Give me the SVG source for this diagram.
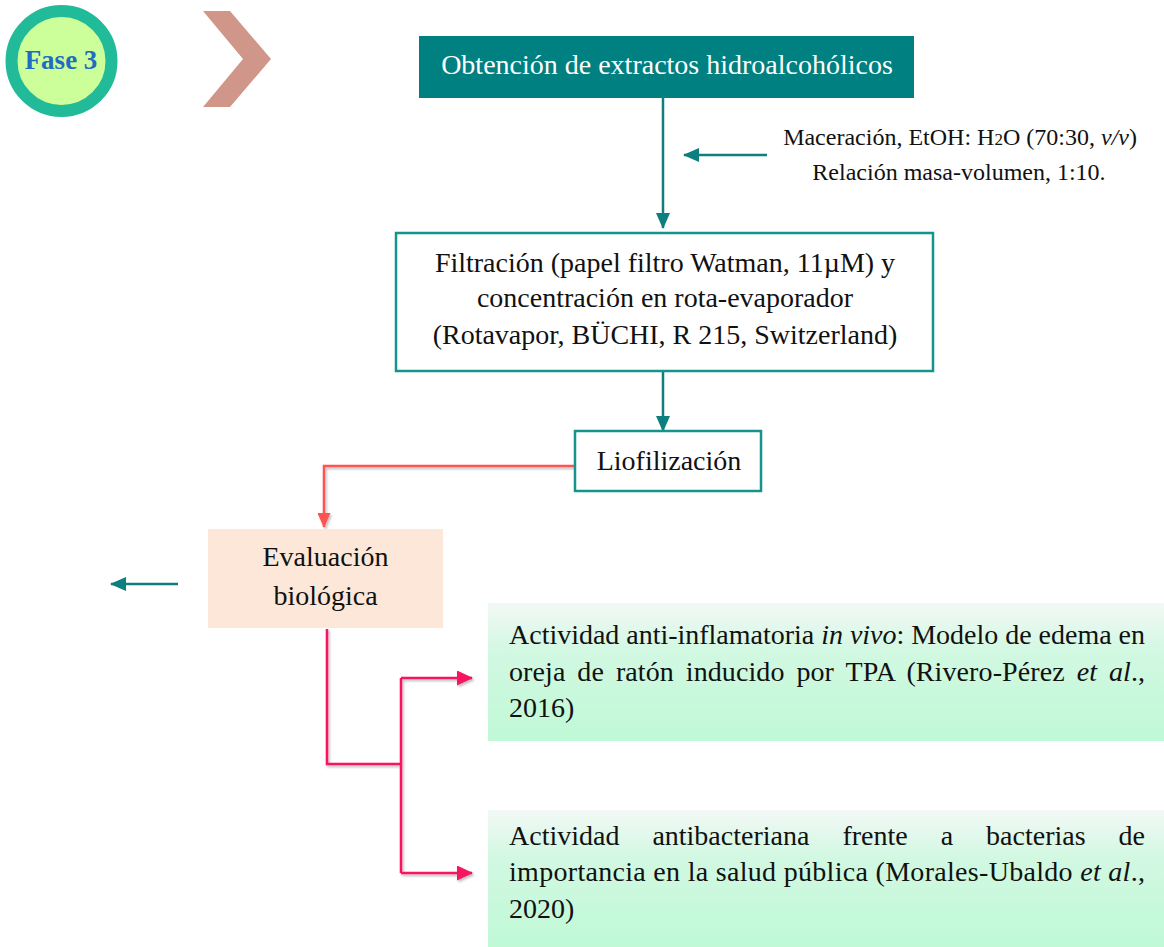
<svg xmlns="http://www.w3.org/2000/svg" width="1164" height="947" viewBox="0 0 1164 947">
<defs>
<style>
text{font-family:"Liberation Serif","Times New Roman",serif;fill:#111;}
.t{font-size:28px;}
.s{font-size:24px;}
.tealbox{fill:#fff;stroke:#14948C;stroke-width:2.5;}
.teal{stroke:#0E7F7F;stroke-width:2.5;fill:none;}
.red{stroke:#FF5252;stroke-width:2.5;fill:none;}
.pink{stroke:#F5125E;stroke-width:2.5;fill:none;}
</style>
<linearGradient id="gg" x1="0" y1="0" x2="0" y2="1">
<stop offset="0" stop-color="#F3F8F6"/>
<stop offset="0.35" stop-color="#D2F8E2"/>
<stop offset="1" stop-color="#BFF9D6"/>
</linearGradient>
<marker id="at" markerWidth="16" markerHeight="14" refX="15" refY="7" orient="auto" markerUnits="userSpaceOnUse" viewBox="0 0 16 14"><path d="M0,0 L16,7 L0,14 Z" fill="#0E7F7F"/></marker>
<marker id="ar" markerWidth="15" markerHeight="13" refX="14" refY="6.5" orient="auto" markerUnits="userSpaceOnUse" viewBox="0 0 15 13"><path d="M0,0 L15,6.5 L0,13 Z" fill="#FF5252"/></marker>
<marker id="ap" markerWidth="16" markerHeight="15" refX="15" refY="7.5" orient="auto" markerUnits="userSpaceOnUse" viewBox="0 0 16 15"><path d="M0,0 L16,7.5 L0,15 Z" fill="#F5125E"/></marker>
<filter id="sh" x="-10%" y="-10%" width="130%" height="130%"><feDropShadow dx="1.5" dy="2" stdDeviation="1.2" flood-color="#000" flood-opacity="0.25"/></filter>
</defs>

<g id="fase">
<circle cx="61.5" cy="61" r="50" fill="#CCFF99" stroke="#22BB99" stroke-width="12"/>
<text x="61" y="69" text-anchor="middle" style="font-size:27px;font-weight:bold;fill:#1F6CC2">Fase 3</text>
</g>
<g id="chevron">
<polygon points="203,11 230,11 271,59 230,107 203,107 243,59" fill="#D0968A"/>
</g>

<g id="connectors">
<line class="teal" x1="663" y1="98" x2="663" y2="228" marker-end="url(#at)"/>
<line class="teal" x1="767" y1="155" x2="684" y2="155" marker-end="url(#at)"/>
<line class="teal" x1="663" y1="371" x2="663" y2="431" marker-end="url(#at)"/>
<polyline class="red" points="575,466 324,466 324,527" marker-end="url(#ar)" filter="url(#sh)"/>
<line class="teal" x1="178" y1="584" x2="111" y2="584" marker-end="url(#at)"/>
<g filter="url(#sh)">
<polyline class="pink" points="327,629 327,764 401,764"/>
<line class="pink" x1="401" y1="678" x2="401" y2="873"/>
<polyline class="pink" points="401,678 472,678" marker-end="url(#ap)"/>
<polyline class="pink" points="401,873 472,873" marker-end="url(#ap)"/>
</g>
</g>

<g id="n1">
<rect x="419" y="36" width="495" height="62" fill="#008080"/>
<text class="t" x="667" y="74" text-anchor="middle" style="fill:#fff">Obtención de extractos hidroalcohólicos</text>
</g>

<g id="note">
<text class="s" x="960" y="145" text-anchor="middle">Maceración, EtOH: H<tspan style="font-size:17px">2</tspan>O (70:30, <tspan font-style="italic">v/v</tspan>)</text>
<text class="s" x="959" y="180" text-anchor="middle">Relación masa-volumen, 1:10.</text>
</g>

<g id="n2">
<rect class="tealbox" x="396" y="233" width="537" height="138"/>
<text class="t" x="665" y="272" text-anchor="middle">Filtración (papel filtro Watman, 11µM) y</text>
<text class="t" x="665" y="307" text-anchor="middle">concentración en rota-evaporador</text>
<text class="t" x="665" y="344" text-anchor="middle">(Rotavapor, BÜCHI, R 215, Switzerland)</text>
</g>

<g id="n3">
<rect class="tealbox" x="575" y="431" width="186" height="60"/>
<text class="t" x="669" y="470" text-anchor="middle">Liofilización</text>
</g>

<g id="n4">
<rect x="208" y="529" width="235" height="99" fill="#FCE7D8"/>
<text class="t" x="325.5" y="566" text-anchor="middle">Evaluación</text>
<text class="t" x="325.5" y="605" text-anchor="middle">biológica</text>
</g>

<g id="n5">
<rect x="488" y="603" width="676" height="138" fill="url(#gg)"/>
<text class="t" x="509" y="644" textLength="636" lengthAdjust="spacing">Actividad anti-inflamatoria <tspan font-style="italic">in vivo</tspan>: Modelo de edema en</text>
<text class="t" x="509" y="681" word-spacing="4.8" textLength="636" lengthAdjust="spacing">oreja de ratón inducido por TPA (Rivero-Pérez <tspan font-style="italic">et al</tspan>.,</text>
<text class="t" x="509" y="717">2016)</text>
</g>

<g id="n6">
<rect x="488" y="810" width="676" height="137" fill="url(#gg)"/>
<text class="t" x="509" y="845" word-spacing="26" textLength="636" lengthAdjust="spacing">Actividad antibacteriana frente a bacterias de</text>
<text class="t" x="509" y="881" textLength="636" lengthAdjust="spacing">importancia en la salud pública (Morales-Ubaldo <tspan font-style="italic">et al</tspan>.,</text>
<text class="t" x="509" y="918">2020)</text>
</g>
</svg>
